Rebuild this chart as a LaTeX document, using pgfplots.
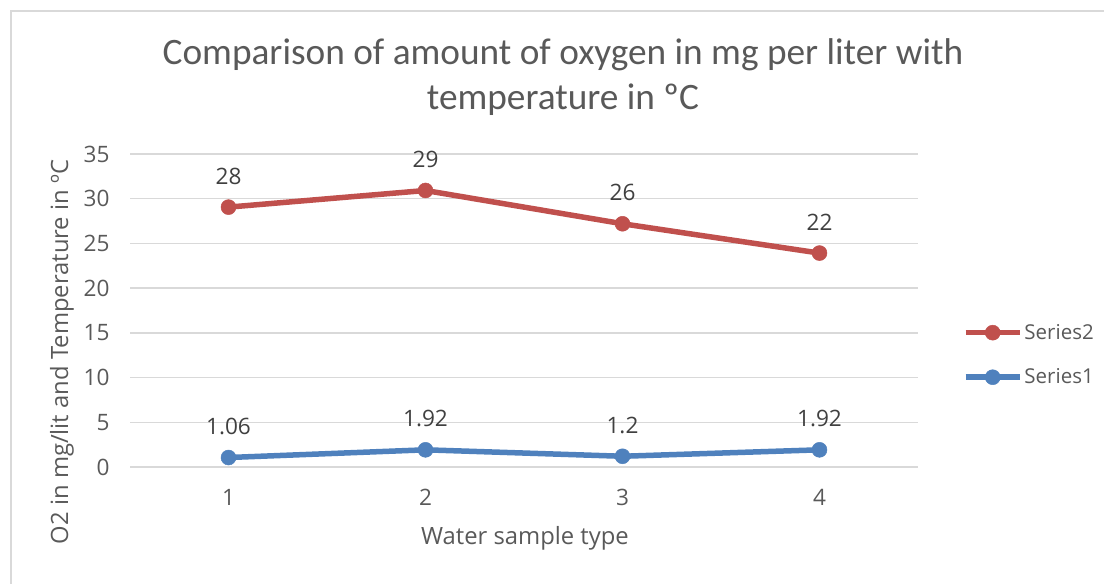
\documentclass[border=0pt]{standalone}
\usepackage{pgfplots}
\pgfplotsset{compat=1.18}
\usepackage{pgfplotstable}
\usepackage{fontspec}
\setmainfont{Open Sans}
\newfontfamily\titlefont{Carlito}
\definecolor{redS}{HTML}{C0504D}
\definecolor{blueS}{HTML}{4F81BD}
\definecolor{txt}{HTML}{595959}
\definecolor{lbl}{HTML}{404040}
\definecolor{gridc}{HTML}{D9D9D9}

\pgfplotstableread{
x y lab
1 1.06 1.06
2 1.92 1.92
3 1.2 1.2
4 1.92 1.92
}\seriesone
\pgfplotstableread{
x y lab
1 28 28
2 29 29
3 26 26
4 22 22
}\seriestwo

\begin{document}
\begin{tikzpicture}[x=1pt,y=1pt]
\useasboundingbox (0,0) rectangle (1104,584);
\draw[gridc, line width=1.2pt] (11,0) -- (11,573) -- (1104,573);
\node[txt, font=\titlefont\fontsize{37.3}{45}\selectfont, align=center] at (563,507) {Comparison of amount of oxygen in mg per liter with\\temperature in ºC};
\node[txt, rotate=90, font=\fontsize{23.8}{28}\selectfont] at (62,232) {O2 in mg/lit and Temperature in ºC};
\node[txt, font=\fontsize{23.8}{28}\selectfont] at (525,46) {Water sample type};
\begin{axis}[
  at={(130pt,117pt)}, anchor=south west,
  scale only axis, width=788pt, height=313pt,
  xmin=0.5, xmax=4.5, ymin=0, ymax=35,
  xtick={1,2,3,4}, ytick={0,5,...,35},
  axis line style={draw=none},
  tick style={draw=none},
  ymajorgrids, major grid style={gridc, line width=1.3pt},
  ticklabel style={font=\fontsize{22.6}{26}\selectfont, text=txt},
  /pgf/number format/assume math mode=true,
  yticklabel style={xshift=-17pt},
  xticklabel style={yshift=-19pt},
  stack plots=y,
  nodes near coords,
  point meta=explicit symbolic,
  every node near coord/.append style={anchor=base, yshift=23pt, font=\fontsize{22.6}{26}\selectfont, text=lbl},
  reverse legend,
  legend cell align=left,
  legend style={at={(1.053,0.358)}, anchor=west, draw=none, fill=none,
    font=\fontsize{20.5}{24}\selectfont, text=txt, row sep=24pt,
    /tikz/every even column/.append style={column sep=2pt}},
  legend image code/.code={\draw[mark repeat=2,mark phase=2,#1] plot coordinates {(0pt,0pt) (27pt,0pt) (54pt,0pt)};},
]
\addplot[color=blueS, line width=5.5pt, line join=round, mark=*, mark size=7.5pt, mark options={solid, line width=0.5pt}] table[x=x, y=y, meta=lab] {\seriesone};
\addlegendentry{Series1}
\addplot[color=redS, line width=5.5pt, line join=round, mark=*, mark size=7.5pt, mark options={solid, line width=0.5pt}] table[x=x, y=y, meta=lab] {\seriestwo};
\addlegendentry{Series2}
\end{axis}
\end{tikzpicture}
\end{document}
